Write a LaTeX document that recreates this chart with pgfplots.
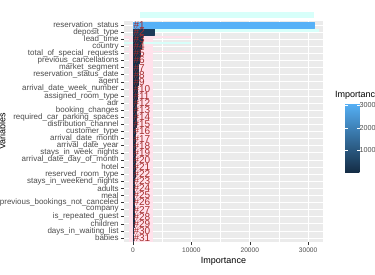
\documentclass[border=0pt]{standalone}
\usepackage{pgfplots}
\usepackage{pgfplotstable}
\pgfplotsset{compat=1.18}
\usepackage{fontspec}
\setmainfont{Liberation Sans}
\definecolor{panel}{HTML}{EBEBEB}
\definecolor{gthirty}{HTML}{4D4D4D}
\definecolor{gtwenty}{HTML}{333333}
\definecolor{labred}{RGB}{165,45,45}
\definecolor{lpink}{RGB}{255,225,235}
\definecolor{lcyan}{RGB}{215,255,250}
% one rectangle (4 corners) per bar: x y value
\pgfplotstableread{
x y v
0 0.55 31000
31000 0.55 31000
31000 1.45 31000
0 1.45 31000
0 1.55 3700
3700 1.55 3700
3700 2.45 3700
0 2.45 3700
0 2.55 1650
1650 2.55 1650
1650 3.45 1650
0 3.45 1650
0 3.55 1450
1450 3.55 1450
1450 4.45 1450
0 4.45 1450
0 4.55 1200
1200 4.55 1200
1200 5.45 1200
0 5.45 1200
0 5.55 1000
1000 5.55 1000
1000 6.45 1000
0 6.45 1000
0 6.55 900
900 6.55 900
900 7.45 900
0 7.45 900
0 7.55 850
850 7.55 850
850 8.45 850
0 8.45 850
0 8.55 800
800 8.55 800
800 9.45 800
0 9.45 800
0 9.55 700
700 9.55 700
700 10.45 700
0 10.45 700
0 10.55 650
650 10.55 650
650 11.45 650
0 11.45 650
0 11.55 600
600 11.55 600
600 12.45 600
0 12.45 600
0 12.55 550
550 12.55 550
550 13.45 550
0 13.45 550
0 13.55 500
500 13.55 500
500 14.45 500
0 14.45 500
0 14.55 480
480 14.55 480
480 15.45 480
0 15.45 480
0 15.55 450
450 15.55 450
450 16.45 450
0 16.45 450
0 16.55 420
420 16.55 420
420 17.45 420
0 17.45 420
0 17.55 400
400 17.55 400
400 18.45 400
0 18.45 400
0 18.55 380
380 18.55 380
380 19.45 380
0 19.45 380
0 19.55 350
350 19.55 350
350 20.45 350
0 20.45 350
0 20.55 320
320 20.55 320
320 21.45 320
0 21.45 320
0 21.55 300
300 21.55 300
300 22.45 300
0 22.45 300
0 22.55 280
280 22.55 280
280 23.45 280
0 23.45 280
0 23.55 250
250 23.55 250
250 24.45 250
0 24.45 250
0 24.55 220
220 24.55 220
220 25.45 220
0 25.45 220
0 25.55 200
200 25.55 200
200 26.45 200
0 26.45 200
0 26.55 180
180 26.55 180
180 27.45 180
0 27.45 180
0 27.55 150
150 27.55 150
150 28.45 150
0 28.45 150
0 28.55 120
120 28.55 120
120 29.45 120
0 29.45 120
0 29.55 100
100 29.55 100
100 30.45 100
0 30.45 100
0 30.55 60
60 30.55 60
60 31.45 60
0 31.45 60
}\bars
\pgfplotstableread{
y z
1 0
2 0
3 0
4 0
5 0
6 0
7 0
8 0
9 0
10 0
11 0
12 0
13 0
14 0
15 0
16 0
17 0
18 0
19 0
20 0
21 0
22 0
23 0
24 0
25 0
26 0
27 0
28 0
29 0
30 0
31 0
}\labs
\begin{document}
\begin{tikzpicture}
\clip (0,0) rectangle (375pt,275pt);
\fill[white] (0,0) rectangle (375pt,275pt);
% light highlight artefacts
\fill[lcyan] (140pt,275pt-12pt) rectangle (314pt,275pt-18pt);
\begin{axis}[
  at={(124pt,254.3pt)}, anchor=north west,
  width=199pt, height=221.6pt, scale only axis,
  xmin=-1550, xmax=32550, ymin=0.4, ymax=31.6, y dir=reverse,
  axis background/.style={fill=panel},
  axis line style={draw=none},
  xtick={0,10000,20000,30000}, minor xtick={5000,15000,25000},
  ytick={1,...,31},
  yticklabels={reservation\_status,deposit\_type,lead\_time,country,total\_of\_special\_requests,previous\_cancellations,market\_segment,reservation\_status\_date,agent,arrival\_date\_week\_number,assigned\_room\_type,adr,booking\_changes,required\_car\_parking\_spaces,distribution\_channel,customer\_type,arrival\_date\_month,arrival\_date\_year,stays\_in\_week\_nights,arrival\_date\_day\_of\_month,hotel,reserved\_room\_type,stays\_in\_weekend\_nights,adults,meal,previous\_bookings\_not\_canceled,company,is\_repeated\_guest,children,days\_in\_waiting\_list,babies},
  grid=both,
  major grid style={white, line width=0.7pt},
  minor grid style={white, line width=0.35pt},
  xtick pos=bottom, ytick pos=left, tick align=outside,
  major tick length=2.8pt, minor tick length=0pt,
  tick style={gtwenty, line width=0.5pt},
  scaled x ticks=false,
  /pgf/number format/1000 sep={},
  /pgf/number format/assume math mode=true,
  xticklabel style={font=\fontsize{6.6}{7}\selectfont, text=gthirty, yshift=0.5pt},
  yticklabel style={font=\fontsize{8}{8}\selectfont, text=gthirty, xshift=1pt},
  xlabel={Importance},
  xlabel style={font=\fontsize{9}{10}\selectfont, text=black, at={(axis description cs:0.5,0)}, anchor=north, yshift=-11pt},
  ylabel={Variables},
  ylabel style={font=\fontsize{9}{10}\selectfont, text=black, at={(axis description cs:-0.612,0.5)}, anchor=center},
  colormap={gg}{rgb255=(19,43,67) rgb255=(86,177,247)},
  point meta min=0, point meta max=31000,
  colorbar,
  colorbar style={
    at={(parent axis.north east)}, anchor=north west,
    xshift=13.5pt, yshift=-82.3pt,
    width=15pt, height=70pt, scale only axis,
    axis line style={draw=none},
    ytick={10000,20000,30000},
    yticklabel pos=right,
    tick align=inside, major tick length=3pt,
    tick style={white, line width=0.6pt},
    scaled y ticks=false,
    /pgf/number format/1000 sep={},
    /pgf/number format/assume math mode=true,
    yticklabel style={font=\fontsize{7.2}{8}\selectfont, text=gthirty, xshift=-4pt},
  },
]
\fill[lpink] (axis cs:-700,2.5) rectangle (axis cs:3450,31.6);
\fill[lcyan] (axis cs:1500,1.55) rectangle (axis cs:31800,1.95);
\fill[lpink] (axis cs:-1550,2.55) rectangle (axis cs:10000,2.85);
\fill[lcyan] (axis cs:-1550,3.45) rectangle (axis cs:10000,3.75);
\fill[lpink] (axis cs:-1550,4.6) rectangle (axis cs:10000,4.85);
\addplot[patch, patch type=rectangle, shader=flat, point meta=explicit]
  table[x=x, y=y, meta=v] {\bars};
\addplot[draw=none, mark=none, point meta=y,
  nodes near coords={\#\pgfmathprintnumber[int detect]{\pgfplotspointmeta}},
  nodes near coords style={anchor=west, inner sep=0.3pt, font=\fontsize{10}{10}\selectfont, text=labred}]
  table[x=z, y=y] {\labs};
\end{axis}
\node[anchor=west, font=\fontsize{9}{9}\selectfont, inner sep=0pt] at (335pt,275pt-95pt) {Importance};
\end{tikzpicture}
\end{document}
